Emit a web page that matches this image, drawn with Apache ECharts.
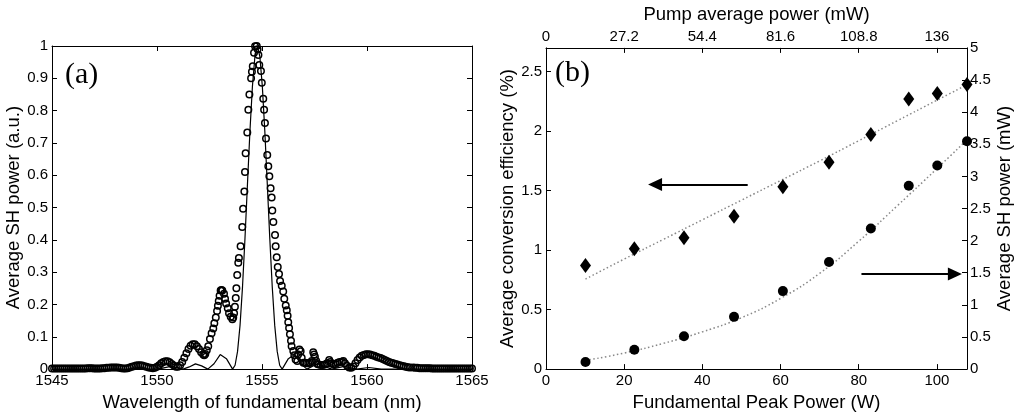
<!DOCTYPE html>
<html>
<head>
<meta charset="utf-8">
<script src="https://cdn.jsdelivr.net/npm/echarts@6/dist/echarts.min.js"></script>
<style>
html,body{margin:0;padding:0;background:#fff;}
#chart{width:1015px;height:417px;}
</style>
</head>
<body>
<div id="chart"></div>
<script>
// ---------- Panel (a) data ----------
const wlTicks = [1545, 1550, 1555, 1560, 1565];
const measuredSH = [
[1545.0,.002],[1545.1,.002],[1545.2,.002],[1545.3,.002],[1545.4,.002],[1545.5,.002],[1545.6,.002],[1545.7,.002],[1545.8,.002],[1545.9,.002],
[1546.0,.002],[1546.1,.002],[1546.2,.002],[1546.3,.002],[1546.4,.002],[1546.5,.002],[1546.6,.002],[1546.7,.003],[1546.8,.003],[1546.9,.003],
[1547.0,.002],[1547.1,.002],[1547.2,.002],[1547.3,.002],[1547.4,.003],[1547.5,.003],[1547.6,.004],[1547.7,.004],[1547.8,.005],[1547.9,.005],
[1548.0,.005],[1548.1,.005],[1548.2,.004],[1548.3,.003],[1548.4,.002],[1548.5,.002],[1548.6,.003],[1548.7,.005],[1548.8,.007],[1548.9,.009],
[1549.0,.011],[1549.1,.012],[1549.2,.012],[1549.3,.011],[1549.4,.009],[1549.5,.007],[1549.6,.005],[1549.7,.004],[1549.8,.003],[1549.9,.004],
[1550.0,.007],[1550.1,.012],[1550.2,.018],[1550.3,.022],[1550.4,.024],[1550.5,.024],[1550.6,.021],[1550.7,.016],[1550.8,.011],[1550.9,.007],
[1551.0,.007],[1551.1,.012],[1551.2,.022],[1551.3,.035],[1551.4,.049],[1551.5,.062],[1551.6,.072],[1551.7,.077],[1551.8,.077],[1551.9,.071],
[1552.0,.062],[1552.1,.052],[1552.2,.045],[1552.25,.043],[1552.3,.047],[1552.37,.058],[1552.44,.071],[1552.52,.093],[1552.6,.111],[1552.68,.126],
[1552.73,.142],[1552.8,.160],[1552.86,.180],[1552.9,.196],[1552.94,.211],[1552.98,.227],[1553.03,.243],[1553.07,.245],[1553.11,.243],[1553.19,.233],
[1553.24,.218],[1553.29,.203],[1553.37,.188],[1553.43,.173],[1553.51,.162],[1553.59,.154],[1553.63,.160],[1553.67,.173],[1553.71,.193],[1553.75,.220],
[1553.78,.250],[1553.82,.291],[1553.87,.329],[1553.9,.344],[1553.98,.380],[1554.06,.440],[1554.10,.496],[1554.16,.550],[1554.19,.610],[1554.22,.668],
[1554.30,.732],[1554.35,.803],[1554.40,.850],[1554.48,.900],[1554.52,.920],[1554.56,.937],[1554.62,.979],[1554.67,.999],[1554.75,1.0],[1554.79,.990],
[1554.83,.972],[1554.87,.941],[1554.95,.923],[1554.99,.886],[1555.06,.837],[1555.10,.803],[1555.14,.762],[1555.19,.714],[1555.25,.663],[1555.30,.628],
[1555.35,.597],[1555.41,.560],[1555.46,.531],[1555.49,.491],[1555.54,.455],[1555.62,.415],[1555.65,.380],[1555.70,.346],[1555.75,.316],[1555.81,.294],
[1555.86,.273],[1555.94,.258],[1556.01,.240],[1556.06,.218],[1556.13,.197],[1556.18,.182],[1556.22,.165],[1556.25,.145],[1556.29,.127],[1556.33,.108],
[1556.38,.088],[1556.41,.071],[1556.49,.056],[1556.54,.043],[1556.6,.030],[1556.68,.025],[1556.72,.045],[1556.78,.061],[1556.84,.055],[1556.89,.035],
[1556.97,.020],[1557.05,.020],[1557.12,.018],[1557.2,.018],[1557.28,.020],[1557.37,.025],[1557.44,.052],[1557.48,.045],[1557.52,.038],[1557.58,.025],
[1557.64,.016],[1557.7,.014],[1557.8,.013],[1557.9,.013],[1558.0,.014],[1558.1,.018],[1558.2,.028],[1558.25,.022],[1558.3,.017],[1558.4,.015],
[1558.5,.016],[1558.6,.020],[1558.7,.022],[1558.8,.023],[1558.87,.025],[1558.95,.018],[1559.05,.010],[1559.15,.005],[1559.25,.004],[1559.35,.008],
[1559.45,.018],[1559.55,.028],[1559.65,.036],[1559.75,.041],[1559.85,.044],[1559.95,.046],[1560.05,.046],[1560.15,.045],[1560.25,.043],[1560.35,.041],
[1560.45,.038],[1560.55,.036],[1560.65,.034],[1560.75,.031],[1560.85,.028],[1560.95,.025],[1561.05,.022],[1561.15,.020],[1561.25,.018],[1561.35,.016],
[1561.45,.014],[1561.55,.012],[1561.65,.010],[1561.75,.009],[1561.85,.007],[1561.95,.006],[1562.05,.005],[1562.2,.005],[1562.3,.004],[1562.4,.004],
[1562.5,.003],[1562.6,.003],[1562.7,.003],[1562.8,.003],[1562.9,.003],[1563.0,.003],[1563.1,.002],[1563.2,.002],[1563.3,.002],[1563.4,.002],
[1563.5,.002],[1563.6,.002],[1563.7,.002],[1563.8,.002],[1563.9,.002],[1564.0,.002],[1564.1,.002],[1564.2,.002],[1564.3,.002],[1564.4,.002],
[1564.5,.002],[1564.6,.002],[1564.7,.002],[1564.8,.002],[1564.9,.002],[1565.0,.002]
];
const theoryWl = [1545.0,1550.06,1550.65,1551.24,1551.535,1551.83,1552.125,1552.42,1552.715,1553.01,1553.305,1553.6,
  1553.718,1553.836,1553.954,1554.072,1554.19,1554.308,1554.426,1554.544,1554.662,1554.78,
  1554.898,1555.016,1555.134,1555.252,1555.37,1555.488,1555.606,1555.724,1555.842,1555.96,
  1556.255,1556.55,1556.845,1557.14,1557.435,1557.73,1558.025,1558.32,1558.91,1559.5,1560.09,1560.68,1565.0];
const theorySH = [0,0,0.0083,0,0.0067,0.0162,0.0100,0,0.0165,0.045,0.0324,0,
  0.0119,0.0547,0.1353,0.2546,0.4053,0.5730,0.7368,0.8751,0.9675,1.0,
  0.9675,0.8751,0.7368,0.5730,0.4053,0.2546,0.1353,0.0547,0.0119,0,
  0.0324,0.045,0.0165,0,0.0100,0.0162,0.0067,0,0.0083,0,0.005,0,0];

// ---------- Panel (b) data ----------
const peakPower = [10.1, 22.6, 35.3, 48.1, 60.6, 72.4, 83.1, 92.8, 100.1, 107.7];
const convEff   = [0.870, 1.011, 1.105, 1.284, 1.533, 1.738, 1.973, 2.271, 2.317, 2.393];
const shPower   = [0.110, 0.301, 0.512, 0.813, 1.214, 1.666, 2.190, 2.854, 3.170, 3.546];
const fitX      = [10.1, 20, 30, 40, 50, 60, 70, 80, 90, 100, 107.7];
const effFit    = [0.757, 0.925, 1.09, 1.255, 1.42, 1.585, 1.75, 1.92, 2.09, 2.26, 2.39];
const powFit    = [0.135, 0.25, 0.40, 0.58, 0.80, 1.10, 1.49, 1.99, 2.55, 3.12, 3.57];
const pumpTicks = ['0', '27.2', '54.4', '81.6', '108.8', '136'];
const peakTicks = [0, 20, 40, 60, 80, 100];
const effTicks  = [0, 0.5, 1, 1.5, 2, 2.5];
const leftArrow  = [[51.6, 1.551], [27.9, 1.551]];   // points left, on efficiency axis
const rightArrow = [[80.7, 1.48], [104.6, 1.48]];    // points right, on SH power axis

// ---------- styling ----------
const FONT = 'Liberation Sans, Arial, sans-serif';
const tickLbl = { color: '#000', fontFamily: FONT, fontSize: 15 };
const nameTxt = { color: '#000', fontFamily: FONT, fontSize: 18.5 };
const axLine = { show: true, onZero: false, lineStyle: { color: '#000', width: 1 } };
const axTick = { show: true, inside: true, length: 5, lineStyle: { color: '#000', width: 1 } };

const chart = echarts.init(document.getElementById('chart'), null, { renderer: 'canvas' });
chart.setOption({
  animation: false,
  backgroundColor: '#fff',
  grid: [
    { left: 52, right: 543, top: 46, bottom: 42 },
    { left: 546, right: 45, top: 42, bottom: 43 }
  ],
  xAxis: [
    { type: 'value', gridIndex: 0, position: 'bottom', min: 1545, max: 1565, interval: 5,
      axisLine: axLine, axisTick: axTick, splitLine: { show: false },
      axisLabel: Object.assign({ margin: 4, formatter: v => wlTicks.includes(v) ? String(v) : '' }, tickLbl),
      name: 'Wavelength of fundamental beam (nm)', nameLocation: 'middle', nameGap: 21, nameTextStyle: nameTxt },
    { type: 'value', gridIndex: 0, position: 'top', min: 1545, max: 1565, interval: 5,
      axisLine: axLine, axisTick: axTick, splitLine: { show: false }, axisLabel: { show: false } },
    { type: 'value', gridIndex: 1, position: 'bottom', min: 0, max: 107.7, interval: 20,
      axisLine: axLine, axisTick: axTick, splitLine: { show: false },
      axisLabel: Object.assign({ margin: 4, formatter: v => peakTicks.includes(v) ? String(v) : '' }, tickLbl),
      name: 'Fundamental Peak Power (W)', nameLocation: 'middle', nameGap: 20, nameTextStyle: nameTxt },
    { type: 'value', gridIndex: 1, position: 'top', min: 0, max: 107.7, interval: 20,
      axisLine: axLine, axisTick: axTick, splitLine: { show: false },
      axisLabel: Object.assign({ margin: 4, formatter: v => { const i = peakTicks.indexOf(v); return i >= 0 ? pumpTicks[i] : ''; } }, tickLbl),
      name: 'Pump average power (mW)', nameLocation: 'middle', nameGap: 18, nameTextStyle: nameTxt }
  ],
  yAxis: [
    { type: 'value', gridIndex: 0, position: 'left', min: 0, max: 1, interval: 0.1,
      axisLine: axLine, axisTick: axTick, splitLine: { show: false },
      axisLabel: Object.assign({ margin: 4 }, tickLbl),
      name: 'Average SH power (a.u.)', nameLocation: 'middle', nameGap: 22, nameTextStyle: nameTxt },
    { type: 'value', gridIndex: 0, position: 'right', min: 0, max: 1, interval: 0.1,
      axisLine: axLine, axisTick: axTick, splitLine: { show: false }, axisLabel: { show: false } },
    { type: 'value', gridIndex: 1, position: 'left', min: 0, max: 2.7, interval: 0.5,
      axisLine: axLine, axisTick: axTick, splitLine: { show: false },
      axisLabel: Object.assign({ margin: 4, formatter: v => effTicks.includes(v) ? String(v) : '' }, tickLbl),
      name: 'Average conversion efficiency (%)', nameLocation: 'middle', nameGap: 22, nameTextStyle: nameTxt },
    { type: 'value', gridIndex: 1, position: 'right', min: 0, max: 5, interval: 0.5,
      axisLine: axLine, axisTick: axTick, splitLine: { show: false },
      axisLabel: Object.assign({ margin: 3 }, tickLbl),
      name: 'Average SH power (mW)', nameLocation: 'middle', nameGap: 28, nameRotate: 90, nameTextStyle: nameTxt }
  ],
  series: [
    { type: 'line', xAxisIndex: 0, yAxisIndex: 0, data: theoryWl.map((x, i) => [x, theorySH[i]]),
      showSymbol: false, symbol: 'none', lineStyle: { color: '#000', width: 1.2 }, silent: true, z: 2 },
    { type: 'scatter', xAxisIndex: 0, yAxisIndex: 0, data: measuredSH, symbol: 'circle', symbolSize: 6.5,
      itemStyle: { color: 'rgba(0,0,0,0)', borderColor: '#000', borderWidth: 1.5, opacity: 1 }, silent: true, z: 3 },
    { type: 'line', xAxisIndex: 2, yAxisIndex: 2, data: fitX.map((x, i) => [x, effFit[i]]), smooth: true,
      showSymbol: false, symbol: 'none', lineStyle: { color: '#888', width: 1.5, type: [1.5, 2.5] }, silent: true },
    { type: 'line', xAxisIndex: 2, yAxisIndex: 3, data: fitX.map((x, i) => [x, powFit[i]]), smooth: true,
      showSymbol: false, symbol: 'none', lineStyle: { color: '#888', width: 1.5, type: [1.5, 2.5] }, silent: true },
    { type: 'scatter', xAxisIndex: 2, yAxisIndex: 2, data: peakPower.map((x, i) => [x, convEff[i]]),
      symbol: 'diamond', symbolSize: [11, 15], itemStyle: { color: '#000', opacity: 1 }, silent: true, z: 4,
      markLine: { silent: true, symbol: ['none', 'triangle'], symbolSize: [13, 14], label: { show: false },
        lineStyle: { color: '#000', width: 2, type: 'solid', opacity: 1 },
        data: [[{ coord: leftArrow[0] }, { coord: leftArrow[1] }]] } },
    { type: 'scatter', xAxisIndex: 2, yAxisIndex: 3, data: peakPower.map((x, i) => [x, shPower[i]]),
      symbol: 'circle', symbolSize: 10, itemStyle: { color: '#000', opacity: 1 }, silent: true, z: 4,
      markLine: { silent: true, symbol: ['none', 'triangle'], symbolSize: [13, 14], label: { show: false },
        lineStyle: { color: '#000', width: 2, type: 'solid', opacity: 1 },
        data: [[{ coord: rightArrow[0] }, { coord: rightArrow[1] }]] } }
  ],
  graphic: [
    { type: 'text', left: 65, top: 60, style: { text: '(a)', fontFamily: 'Liberation Serif, Times New Roman, serif', fontSize: 30, fill: '#000' } },
    { type: 'text', left: 555, top: 58, style: { text: '(b)', fontFamily: 'Liberation Serif, Times New Roman, serif', fontSize: 30, fill: '#000' } }
  ]
});
</script>
</body>
</html>
